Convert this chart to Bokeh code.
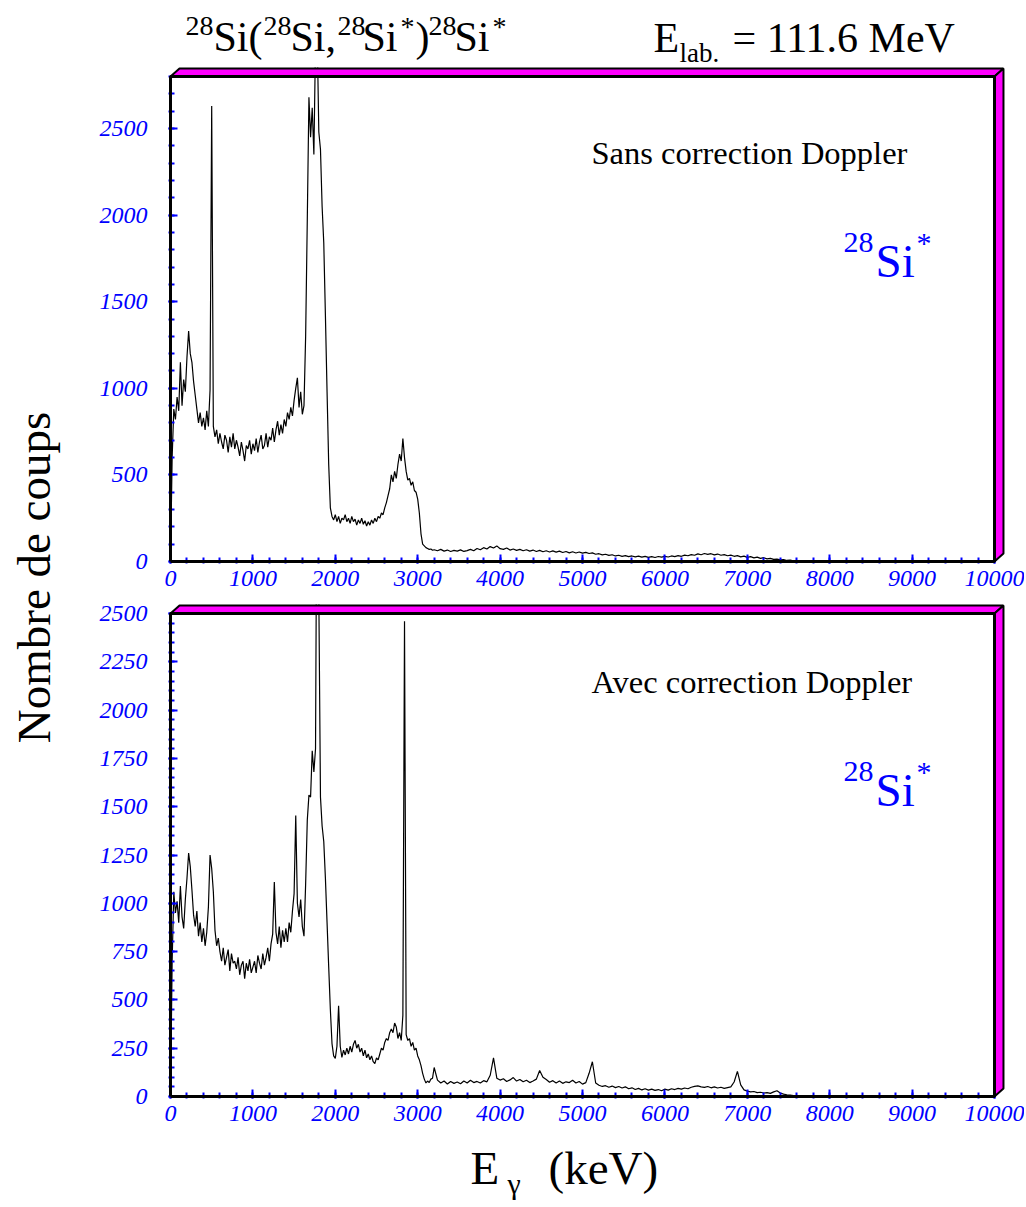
from math import pi
from bokeh.plotting import figure
from bokeh.layouts import row, column
from bokeh.models import Label, Range1d, FixedTicker
from bokeh.embed import file_html
from bokeh.resources import INLINE

# ---------------- data ----------------
ENERGY_A = list(range(0, 3200, 20))        # keV, 20 keV bins
ENERGY_B = list(range(3200, 7600, 40))     # keV, 40 keV bins
ENERGY_C = list(range(7600, 10001, 100))   # keV, 100 keV bins

# "Sans correction Doppler"
SANS_A = [
    0, 600, 880, 820, 950, 870, 1150, 900, 1050, 980,
    1180, 1330, 1200, 1150, 1040, 960, 880, 800, 860, 780,
    830, 760, 870, 780, 990, 2630, 780, 720, 760, 680,
    740, 690, 650, 730, 700, 630, 720, 660, 740, 650,
    700, 660, 610, 690, 640, 580, 670, 650, 700, 620,
    680, 640, 710, 630, 690, 730, 650, 670, 740, 660,
    720, 700, 770, 690, 760, 810, 730, 790, 740, 820,
    780, 860, 820, 890, 840, 930, 1000, 1060, 890, 980,
    850, 900, 1300, 1970, 2680, 2450, 2620, 2350, 3000, 3050,
    2480, 2380, 2050, 1840, 1420, 980, 560, 310, 260, 240,
    270, 230, 260, 220, 250, 240, 270, 230, 250, 220,
    260, 230, 245, 210, 240, 220, 250, 215, 235, 205,
    230, 210, 240, 220, 250, 230, 260, 250, 280, 270,
    310, 340, 380, 420, 500, 460, 520, 480, 560, 620,
    580, 710, 600, 520, 470, 480, 440, 460, 410, 400,
    360, 280, 160, 100, 90, 80, 75, 70, 72, 65,
]
SANS_B = [
    68, 62, 70, 60, 66, 58, 64, 60, 67, 58,
    63, 70, 62, 75, 68, 80, 72, 86, 78, 90,
    74, 70, 78, 66, 72, 64, 70, 62, 68, 60,
    66, 58, 64, 56, 62, 55, 61, 54, 60, 52,
    58, 50, 56, 49, 55, 48, 53, 46, 50, 42,
    45, 38, 42, 35, 39, 32, 36, 30, 34, 28,
    32, 27, 31, 25, 30, 24, 28, 23, 29, 25,
    30, 26, 32, 28, 34, 30, 37, 33, 40, 36,
    44, 39, 46, 41, 45, 38, 43, 36, 40, 33,
    37, 30, 34, 27, 31, 24, 28, 21, 25, 18,
    22, 15, 18, 12, 14, 9, 11, 6, 8, 4,
]
SANS_C = [4, 2, 3, 1, 2, 1, 2, 0, 1, 1, 0, 1, 0, 1, 0, 0, 1, 0, 0, 1, 0, 0, 0, 0, 0]

# "Avec correction Doppler"
AVEC_A = [
    0, 700, 1060, 950, 1010, 900, 1090, 930, 870, 1020,
    1130, 1260, 1190, 1070, 940, 880, 960, 830, 900, 800,
    870, 780, 850, 980, 1250, 1180, 1060, 860, 780, 820,
    750, 700, 770, 680, 720, 760, 650, 740, 690, 700,
    660, 720, 630, 680, 700, 610, 690, 650, 710, 640,
    670, 700, 640, 730, 690, 660, 740, 680, 720, 770,
    700, 790, 840, 1110, 850, 790, 880, 770, 860, 800,
    870, 800, 900, 850, 960, 1050, 1455, 1000, 930, 1020,
    880, 830, 1100, 1430, 1560, 1550, 1790, 1680, 1800, 3600,
    2600, 1550, 1400, 1320, 1130, 900, 670, 450, 274, 210,
    197, 260, 470, 260, 202, 240, 215, 250, 220, 260,
    230, 270, 290, 250, 270, 230, 250, 210, 240, 200,
    220, 190, 210, 180, 170, 200, 190, 220, 250, 240,
    280, 300, 290, 330, 350, 330, 380, 360, 300, 330,
    290, 420, 2460, 320, 290, 300, 260, 280, 240, 250,
    210, 190, 160, 120, 90, 70, 80, 72, 90, 95,
]
AVEC_B = [
    150, 85, 70, 80, 65, 78, 68, 75, 66, 80,
    70, 84, 72, 78, 70, 82, 76, 110, 200, 95,
    85, 92, 78, 86, 98, 80, 88, 76, 84, 72,
    80, 90, 135, 100, 88, 74, 82, 70, 80, 68,
    76, 72, 84, 70, 78, 64, 72, 120, 180, 70,
    58, 52, 56, 48, 54, 46, 52, 44, 50, 40,
    45, 36, 42, 34, 40, 33, 38, 32, 36, 30,
    38, 33, 40, 36, 42, 38, 44, 40, 48, 52,
    55, 50, 47, 52, 45, 50, 44, 48, 42, 46,
    50, 75, 130, 60, 34, 28, 24, 26, 20, 22,
    18, 20, 16, 24, 30, 18, 12, 9, 7, 5,
]
AVEC_C = [4, 3, 2, 3, 1, 2, 1, 1, 0, 1, 0, 1, 0, 0, 1, 0, 0, 0, 1, 0, 0, 0, 0, 0, 0]

X_TICKS = [0, 1000, 2000, 3000, 4000, 5000, 6000, 7000, 8000, 9000, 10000]
Y1_TICKS = [0, 500, 1000, 1500, 2000, 2500]
Y2_TICKS = [0, 250, 500, 750, 1000, 1250, 1500, 1750, 2000, 2250, 2500]

ENERGY = ENERGY_A + ENERGY_B + ENERGY_C
SANS = SANS_A + SANS_B + SANS_C
AVEC = AVEC_A + AVEC_B + AVEC_C
assert len(ENERGY) == len(SANS) == len(AVEC), (len(ENERGY), len(SANS), len(AVEC))

# ---------------- styling / layout ----------------
FONT = "Liberation Serif"
BLUE = "#0000ff"
MAGENTA = "#ff00ff"
COL_W = 956          # width of the right-hand column (page x 68 .. 1024)
MID = 0.3375         # distance baseline -> text middle, in em


# page-pixel -> data helpers (page coordinates measured on the reference)
def X(px):
    return (px - 170) / 0.0824


def Y1(py):
    return (561 - py) / 0.1732


def Y2(py):
    return (1096 - py) / 0.1932


def page(v):
    return v


def bare(width, height, y0, x0=168, x1=1006, left=100, right=18):
    """A figure without axes whose data coordinates are page pixels."""
    f = figure(width=width, height=height, output_backend="svg", toolbar_location=None,
               x_range=Range1d(x0, x1), y_range=Range1d(y0 + height, y0),
               x_axis_location=None, y_axis_location=None,
               min_border_left=left, min_border_right=right,
               min_border_top=0, min_border_bottom=0)
    f.grid.visible = False
    f.outline_line_color = None
    f.background_fill_color = "white"
    f.border_fill_color = "white"
    return f


def make_panel(height, y_start, y_end, border_top, border_bottom, y_ticks, y_minor):
    p = figure(width=COL_W, height=height, output_backend="svg", toolbar_location=None,
               x_range=Range1d(X(168), X(1006)), y_range=Range1d(y_start, y_end),
               min_border_left=100, min_border_right=18,
               min_border_top=border_top, min_border_bottom=border_bottom)
    p.grid.visible = False
    p.outline_line_color = None
    p.background_fill_color = "white"
    p.border_fill_color = "white"
    p.xaxis.ticker = FixedTicker(ticks=X_TICKS, minor_ticks=[v for v in range(0, 10001, 200)])
    p.yaxis.ticker = FixedTicker(ticks=y_ticks, minor_ticks=y_minor)
    for ax in (p.xaxis[0], p.yaxis[0]):
        ax.axis_line_color = None
        ax.major_tick_line_color = BLUE
        ax.minor_tick_line_color = BLUE
        ax.major_tick_line_width = 2
        ax.minor_tick_line_width = 2
        ax.major_tick_in = 9
        ax.major_tick_out = 0
        ax.minor_tick_in = 6
        ax.minor_tick_out = 0
        ax.major_label_text_font = FONT
        ax.major_label_text_font_style = "italic"
        ax.major_label_text_font_size = "24px"
        ax.major_label_text_color = BLUE
    p.xaxis.major_label_standoff = 7
    p.yaxis.major_label_standoff = 21
    return p


def frame3d(p, ytop, dy):
    x0, x1, dx = 0, 10000, 109
    p.patch([x0, x0 + dx, x1 + dx, x1], [ytop, ytop + dy, ytop + dy, ytop],
            fill_color=MAGENTA, line_color="black", line_width=2, level="overlay")
    p.patch([x1, x1 + dx, x1 + dx, x1], [ytop, ytop + dy, dy, 0],
            fill_color=MAGENTA, line_color="black", line_width=2, level="overlay")
    p.line([x0, x0, x1, x1, x0], [0, ytop, ytop, 0, 0], line_color="black",
           line_width=3, level="overlay")


def label(p, xmap, ymap, px, baseline, text, size, color="black", angle=0):
    """Place text whose baseline sits at page pixel row `baseline`."""
    p.add_layout(Label(x=xmap(px), y=ymap(baseline - MID * size), text=text,
                       text_font=FONT, text_font_size=f"{size}px", text_color=color,
                       text_align="left", text_baseline="middle", angle=angle))


# ---- title strip (page y 0 .. 67) ----
top = bare(COL_W, 67, 0)
for px, py, t, s in [(185, 35, "28", 28), (213, 51, "Si(", 42), (263, 35, "28", 28),
                     (290, 51, "Si,", 42), (337, 35, "28", 28), (362, 51, "Si", 42),
                     (400, 35, "*", 28), (415, 51, ")", 42), (428, 35, "28", 28),
                     (454, 51, "Si", 42), (492, 35, "*", 28),
                     (653, 52, "E", 42), (679, 61.5, "lab.", 27), (732, 52, "= 111.6 MeV", 42)]:
    label(top, page, page, px, py, t, s)

# ---- top panel (page y 67 .. 599) ----
p1 = make_panel(532, Y1(563), Y1(67), 0, 36, Y1_TICKS, [v for v in range(0, 2801, 100)])
p1.line(ENERGY, SANS, line_color="black", line_width=1.2)
frame3d(p1, 2800, 46)
label(p1, X, Y1, 591, 163, "Sans correction Doppler", 32.5)
label(p1, X, Y1, 843, 252, "28", 30, BLUE)
label(p1, X, Y1, 875, 276, "Si", 47, BLUE)
label(p1, X, Y1, 916, 252, "*", 30, BLUE)

# ---- bottom panel (page y 599 .. 1134) ----
p2 = make_panel(535, Y2(1098), Y2(604), 5, 36, Y2_TICKS, [v for v in range(0, 2501, 50)])
p2.line(ENERGY, AVEC, line_color="black", line_width=1.2)
frame3d(p2, 2500, 41.4)
label(p2, X, Y2, 591, 692, "Avec correction Doppler", 32.5)
label(p2, X, Y2, 843, 781, "28", 30, BLUE)
label(p2, X, Y2, 875, 805, "Si", 47, BLUE)
label(p2, X, Y2, 916, 781, "*", 30, BLUE)

# ---- x-axis title strip (page y 1134 .. 1207) ----
bot = bare(COL_W, 73, 1134)
label(bot, page, page, 470, 1183, "E", 47)
label(bot, page, page, 507, 1193, "γ", 30)
label(bot, page, page, 548, 1183, "(keV)", 47)

# ---- left strip with the vertical axis title (page x 0 .. 68) ----
left = bare(68, 1207, 0, x0=0, x1=68, left=0, right=0)
left.add_layout(Label(x=33, y=577, text="Nombre de coups", angle=pi / 2,
                      text_font=FONT, text_font_size="47px", text_color="black",
                      text_align="center", text_baseline="middle"))

layout = row(left, column(top, p1, p2, bot))
open("out.html", "w").write(file_html(layout, INLINE))
